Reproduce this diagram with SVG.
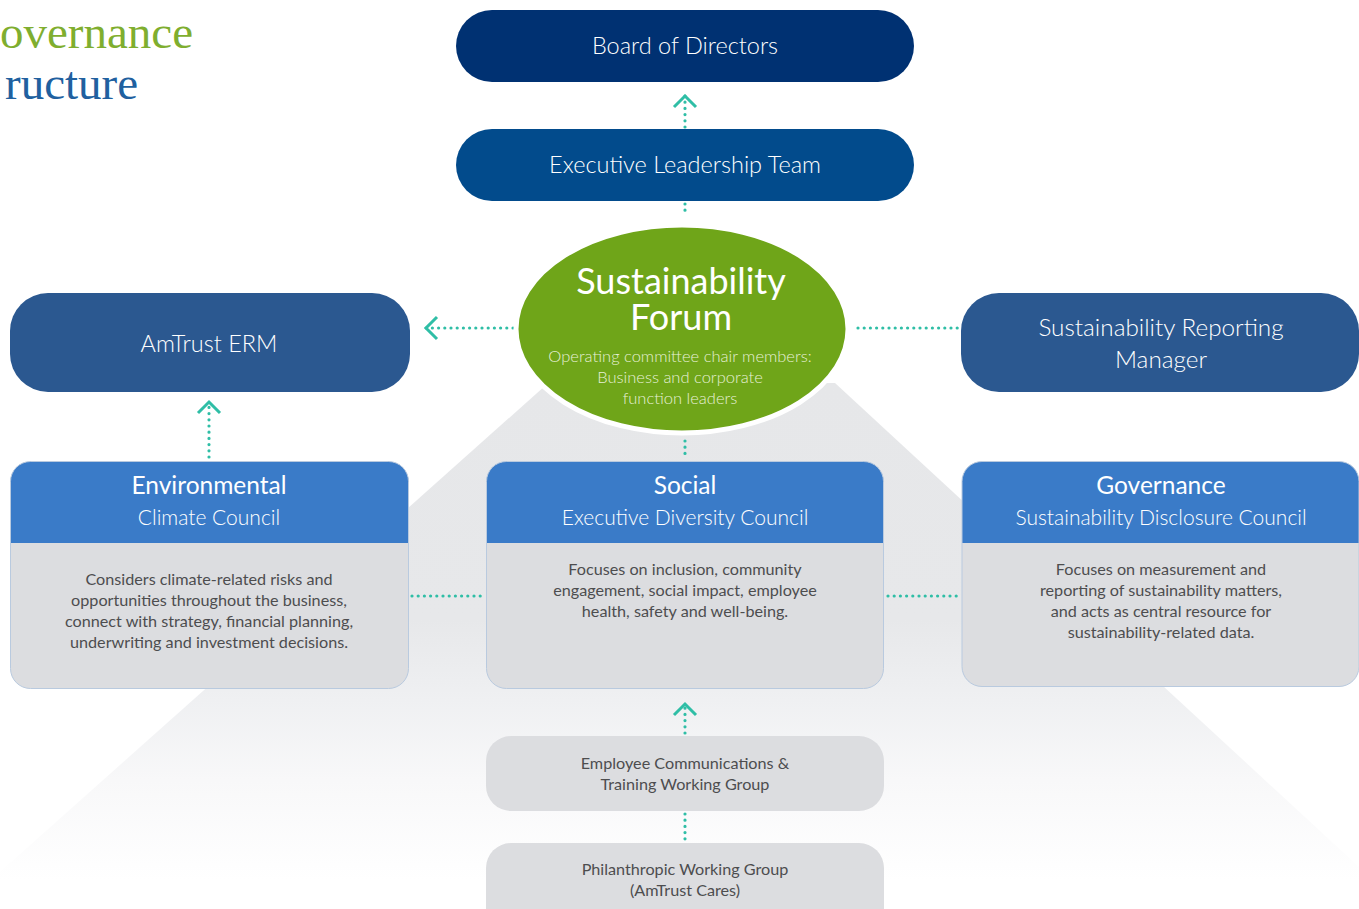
<svg xmlns="http://www.w3.org/2000/svg" width="1359" height="909" viewBox="0 0 1359 909">
<defs>
<linearGradient id="bgGrad" gradientUnits="userSpaceOnUse" x1="0" y1="380" x2="0" y2="880">
<stop offset="0" stop-color="#e6e7e9"/>
<stop offset="0.48" stop-color="#e7e8ea"/>
<stop offset="0.64" stop-color="#eff0f2"/>
<stop offset="0.8" stop-color="#f8f8f9"/>
<stop offset="1" stop-color="#ffffff"/>
</linearGradient>
<marker id="chev" markerUnits="userSpaceOnUse" viewBox="-13 -13 16 26" markerWidth="16" markerHeight="26" refX="0" refY="0" orient="auto">
<path d="M-11,-11 L0,0 L-11,11" fill="none" stroke="#2fbea6" stroke-width="3"/>
</marker>
</defs>
<style>
text{font-family:Lato,"Open Sans","Liberation Sans",sans-serif;text-anchor:middle}
.lt{font-weight:300;fill:#ffffff}
.h{font-size:23.5px}
.ttl{font-size:24.5px;font-weight:400;fill:#ffffff}
.sub{font-size:21px;font-weight:300;fill:#ffffff}
.desc{font-size:16.2px;fill:#4d4d4f}
.dk1{fill:#003172}
.dk2{fill:#024b8c}
.dk3{fill:#2b5890}
.hdr{fill:#3a7bc8}
.body{fill:#dcdde0}
.edge{fill:none;stroke:#b9cadf;stroke-width:1}
.con{stroke:#2fbea6;stroke-width:3.2;stroke-linecap:round;stroke-dasharray:0 6.2;fill:none}
.serif{font-family:"Liberation Serif",serif;font-size:47px;text-anchor:start}
</style>
<rect width="1359" height="909" fill="#ffffff"/>
<polygon points="546,385 835,383 1359,867 1359,909 0,909 0,872" fill="url(#bgGrad)"/>
<g id="title">
<text class="serif" x="0" y="48" fill="#7fae2f">overnance</text>
<text class="serif" x="5" y="99" fill="#20609f">ructure</text>
</g>
<g id="connectors">
<line class="con" x1="685" y1="127" x2="685" y2="96" marker-end="url(#chev)"/>
<line class="con" x1="685" y1="204" x2="685" y2="216"/>
<line class="con" x1="513" y1="328" x2="426" y2="328" marker-end="url(#chev)"/>
<line class="con" x1="858" y1="328" x2="958" y2="328"/>
<line class="con" x1="685" y1="441" x2="685" y2="459"/>
<line class="con" x1="209" y1="457" x2="209" y2="402" marker-end="url(#chev)"/>
<line class="con" x1="412" y1="596" x2="484" y2="596"/>
<line class="con" x1="888" y1="596" x2="960" y2="596"/>
<line class="con" x1="685" y1="733" x2="685" y2="704" marker-end="url(#chev)"/>
<line class="con" x1="685" y1="814" x2="685" y2="839"/>
</g>
<g id="board">
<rect class="dk1" x="456" y="10" width="458" height="72" rx="36"/>
<text class="lt h" x="685" y="54">Board of Directors</text>
</g>
<g id="elt">
<rect class="dk2" x="456" y="129" width="458" height="72" rx="36"/>
<text class="lt h" x="685" y="173">Executive Leadership Team</text>
</g>
<g id="forum">
<ellipse cx="682" cy="329" rx="166" ry="104" fill="#6fa519" stroke="#ffffff" stroke-width="5"/>
<text x="681" y="294" style="font-size:36px;fill:#ffffff">Sustainability<tspan x="681" dy="36">Forum</tspan></text>
<text class="lt" x="680" y="362" style="font-size:16.5px;fill:#e6f0d6">Operating committee chair members:<tspan x="680" dy="21">Business and corporate</tspan><tspan x="680" dy="21">function leaders</tspan></text>
</g>
<g id="erm">
<rect class="dk3" x="10" y="293" width="400" height="99" rx="38"/>
<text class="lt h" x="209" y="352">AmTrust ERM</text>
</g>
<g id="srm">
<rect class="dk3" x="961" y="293" width="398" height="99" rx="38"/>
<text class="lt" x="1161" y="336" style="font-size:24.3px">Sustainability Reporting<tspan x="1161" dy="32">Manager</tspan></text>
</g>
<g id="environmental">
<rect class="body" x="10.5" y="461.5" width="398" height="227" rx="20"/>
<path class="hdr" d="M10.5,543 V481.5 A20,20 0 0 1 30.5,461.5 H388.5 A20,20 0 0 1 408.5,481.5 V543 Z"/>
<rect class="edge" x="10.5" y="461.5" width="398" height="227" rx="20"/>
<text class="ttl" x="209" y="494">Environmental</text>
<text class="sub" x="209" y="525">Climate Council</text>
<text class="desc" x="209" y="585">Considers climate-related risks and</text>
<text class="desc" x="209" y="606">opportunities throughout the business,</text>
<text class="desc" x="209" y="627">connect with strategy, financial planning,</text>
<text class="desc" x="209" y="648">underwriting and investment decisions.</text>
</g>
<g id="social">
<rect class="body" x="486.5" y="461.5" width="397" height="227" rx="20"/>
<path class="hdr" d="M486.5,543 V481.5 A20,20 0 0 1 506.5,461.5 H863.5 A20,20 0 0 1 883.5,481.5 V543 Z"/>
<rect class="edge" x="486.5" y="461.5" width="397" height="227" rx="20"/>
<text class="ttl" x="685" y="494">Social</text>
<text class="sub" x="685" y="525">Executive Diversity Council</text>
<text class="desc" x="685" y="575">Focuses on inclusion, community</text>
<text class="desc" x="685" y="596">engagement, social impact, employee</text>
<text class="desc" x="685" y="617">health, safety and well-being.</text>
</g>
<g id="governance">
<rect class="body" x="962" y="461.5" width="397" height="225" rx="20"/>
<path class="hdr" d="M962,543 V481.5 A20,20 0 0 1 982,461.5 H1339 A20,20 0 0 1 1359,481.5 V543 Z"/>
<rect class="edge" x="962" y="461.5" width="397" height="225" rx="20"/>
<text class="ttl" x="1161" y="494">Governance</text>
<text class="sub" x="1161" y="525">Sustainability Disclosure Council</text>
<text class="desc" x="1161" y="575">Focuses on measurement and</text>
<text class="desc" x="1161" y="596">reporting of sustainability matters,</text>
<text class="desc" x="1161" y="617">and acts as central resource for</text>
<text class="desc" x="1161" y="638">sustainability-related data.</text>
</g>
<g id="employee">
<rect class="body" x="486" y="736" width="398" height="75" rx="25"/>
<text class="desc" x="685" y="769">Employee Communications &amp;</text>
<text class="desc" x="685" y="790">Training Working Group</text>
</g>
<g id="philanthropic">
<rect class="body" x="486" y="843" width="398" height="90" rx="25"/>
<text class="desc" x="685" y="875">Philanthropic Working Group</text>
<text class="desc" x="685" y="896">(AmTrust Cares)</text>
</g>
</svg>
